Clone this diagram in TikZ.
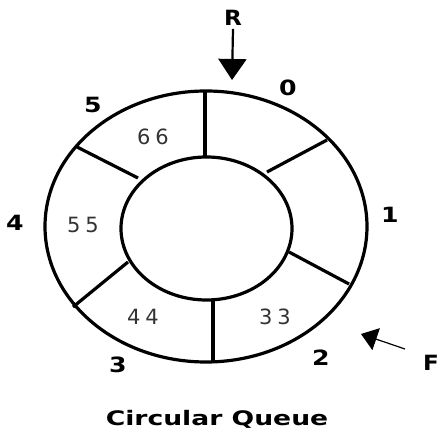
\documentclass[tikz,border=0pt]{standalone}
\usepackage{fontspec}
\setmainfont{DejaVu Sans}
\usetikzlibrary{arrows.meta}

\begin{document}
\begin{tikzpicture}[x=1pt, y=1pt,
    ring/.style={line width=3.2pt},
    slotnum/.style={font=\fontsize{21}{21}\selectfont\bfseries, xscale=1.2, inner sep=0pt},
    val/.style={font=\fontsize{21}{21}\selectfont, text=black!80, inner sep=0pt},
    ptr/.style={font=\fontsize{21}{21}\selectfont\bfseries, xscale=1.1, inner sep=0pt},
    bigarr/.style={-{Triangle[length=21pt, width=28pt]}, line width=2.2pt},
    thinarr/.style={-{Triangle[length=16pt, width=23pt]}, line width=1.2pt}
]
\useasboundingbox (0,0) rectangle (439,433);
% the two rings
\draw[ring] (206,206.5) ellipse (161 and 135.5);
\draw[ring] (206.5,204.5) ellipse (85.5 and 71.5);
% dividers between the slots
\foreach \xo/\yo/\xi/\yi in {205/342/205/276, 327/293/267/261, 349/149/289/181,
                             213/71/213/133, 73/126/128/171, 77/286/138/255}
  \draw[ring] (\xo,\yo) -- (\xi,\yi);
% slot indices
\node[slotnum] (s0) at (288,345) {0};
\node[slotnum] (s1) at (390,218) {1};
\node[slotnum] (s2) at (321,75) {2};
\node[slotnum] (s3) at (118,68) {3};
\node[slotnum] (s4) at (15,210) {4};
\node[slotnum] (s5) at (93,328) {5};
% values
\node[val] (v5) at (153,296) {6\kern5pt 6};
\node[val] (v4) at (83,208) {5\kern5pt 5};
\node[val] (v3) at (143,116) {4\kern5pt 4};
\node[val] (v2) at (275,116) {3\kern5pt 3};
% rear and front
\node[ptr] (rear) at (233,415) {R};
\coordinate (rtip) at (232,353);
\draw[bigarr] (rear.south) ++(0,-3) -- (rtip);
\node[ptr] (front) at (431,70) {F};
\coordinate (fstart) at (405,84);
\coordinate (ftip) at (361,99);
\draw[thinarr] (fstart) -- (ftip);
% caption
\node[font=\fontsize{20}{20}\selectfont\bfseries, xscale=1.33, inner sep=0pt] (title) at (217,14) {Circular Queue};
\end{tikzpicture}
\end{document}
